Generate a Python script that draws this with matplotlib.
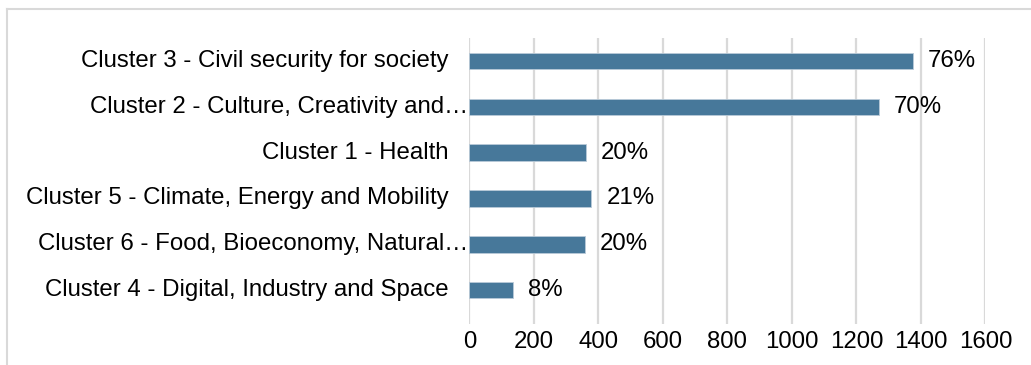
import matplotlib.pyplot as plt
from matplotlib.lines import Line2D

plt.rcParams['font.family'] = ['Liberation Sans', 'DejaVu Sans']

# top to bottom, as drawn
clusters = [
    "Cluster 3 - Civil security for society",
    "Cluster 2 - Culture, Creativity and\u2026",
    "Cluster 1 - Health",
    "Cluster 5 - Climate, Energy and Mobility",
    "Cluster 6 - Food, Bioeconomy, Natural\u2026",
    "Cluster 4 - Digital, Industry and Space",
]
counts = [1374, 1270, 362, 378, 358, 135]
shares = ["76%", "70%", "20%", "21%", "20%", "8%"]
xticks = [0, 200, 400, 600, 800, 1000, 1200, 1400, 1600]

bar_color = '#47789a'
grid_color = '#d9d9d9'
fs = 17.3

W, H = 1031, 365
fig = plt.figure(figsize=(W / 100, H / 100), dpi=100)
ax = fig.add_axes([469.4 / W, 1 - 324 / H, 516 / W, (324 - 38) / H])

pos = list(range(len(clusters)))
ax.barh(pos, counts, height=0.36, color=bar_color, edgecolor='#b9cad8',
        linewidth=0.6, zorder=3)

ax.set_xlim(0, 1600)
ax.set_ylim(5.74, -0.5)
ax.set_xticks(xticks)
ax.set_xticklabels([str(t) for t in xticks], fontsize=fs)
ax.tick_params(axis='x', length=0, pad=5)
ax.set_yticks([])
ax.xaxis.grid(True, color=grid_color, linewidth=1.6, zorder=0)
for s in ax.spines.values():
    s.set_visible(False)

# category names to the left of the bars
for i, name in enumerate(clusters):
    off = 1 if name.endswith('\u2026') else 21
    ax.annotate(name, xy=(0, i), xycoords=('axes fraction', 'data'),
                xytext=(-off, 0), textcoords='offset pixels',
                ha='right', va='center', fontsize=fs)

# share labels after each bar
for i, (c, lab) in enumerate(zip(counts, shares)):
    ax.annotate(lab, xy=(c, i), xytext=(15, 0), textcoords='offset pixels',
                ha='left', va='center', fontsize=fs)

# chart area frame (top and left edges)
fig.add_artist(Line2D([7 / W, 1.0], [1 - 9 / H, 1 - 9 / H], transform=fig.transFigure,
                      color=grid_color, linewidth=1.5))
fig.add_artist(Line2D([7 / W, 7 / W], [0, 1 - 9 / H], transform=fig.transFigure,
                      color=grid_color, linewidth=1.5))

fig.savefig('out.png', dpi=100)
